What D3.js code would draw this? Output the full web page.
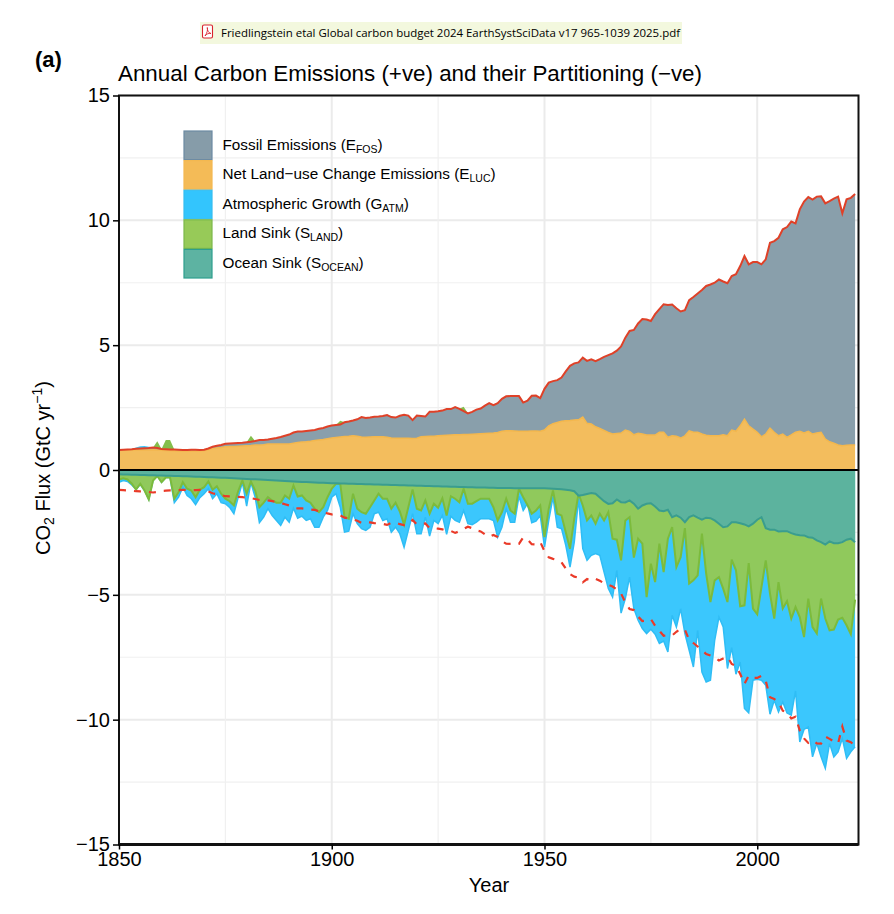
<!DOCTYPE html>
<html><head><meta charset="utf-8">
<script src="https://cdn.jsdelivr.net/npm/d3@7"></script>
<style>html,body{margin:0;padding:0;background:#fff}svg{display:block}text{font-family:"Liberation Sans",Arial,sans-serif;fill:#000}</style>
</head><body><svg id="c" width="894" height="914"></svg>
<script>
const firstYear = 1850;
// Top of positive stack: E_FOS + E_LUC (GtC/yr), by decade rows
const totalEmissions = [
.80,.81,.82,.83,.85,.86,.87,.88,.90,.88,
.84,.83,.82,.82,.81,.80,.80,.81,.81,.80,
.81,.86,.93,.97,1.00,1.05,1.06,1.07,1.08,1.09,
1.11,1.13,1.16,1.20,1.20,1.22,1.25,1.28,1.32,1.37,
1.42,1.50,1.54,1.54,1.56,1.58,1.60,1.65,1.68,1.74,
1.78,1.80,1.82,1.91,1.94,1.98,2.03,2.12,2.08,2.10,
2.13,2.14,2.16,2.20,2.12,2.10,2.17,2.21,2.18,2.00,
2.18,2.16,2.14,2.33,2.33,2.35,2.38,2.44,2.44,2.52,
2.45,2.36,2.27,2.33,2.42,2.46,2.58,2.68,2.60,2.68,
2.85,2.95,2.96,2.96,2.96,2.70,2.78,2.97,2.98,2.88,
3.25,3.50,3.56,3.60,3.70,3.95,4.17,4.27,4.31,4.50,
4.37,4.43,4.36,4.44,4.53,4.60,4.67,4.78,4.95,5.30,
5.57,5.61,5.87,6.05,6.03,5.97,6.24,6.44,6.64,6.61,
6.63,6.48,6.35,6.40,6.80,6.93,7.07,7.21,7.37,7.43,
7.50,7.63,7.55,7.48,7.77,7.84,8.17,8.57,8.24,8.33,
8.33,8.24,8.44,9.10,9.17,9.30,9.64,9.73,9.95,9.88,
10.44,10.75,10.93,10.83,10.95,10.96,10.68,10.77,10.87,10.95,
10.28,10.84,10.90,11.05];
// E_LUC
const lucEmissions = [
.80,.80,.80,.80,.80,.80,.80,.80,.81,.80,
.79,.78,.78,.77,.76,.76,.76,.76,.76,.77,
.78,.82,.86,.88,.90,.93,.94,.94,.95,.96,
.97,.98,1.00,1.00,1.01,1.04,1.04,1.04,1.04,1.04,
1.04,1.07,1.10,1.12,1.13,1.15,1.18,1.20,1.22,1.25,
1.28,1.30,1.32,1.34,1.35,1.37,1.35,1.32,1.31,1.32,
1.33,1.33,1.33,1.31,1.28,1.27,1.27,1.27,1.27,1.26,
1.27,1.33,1.34,1.35,1.35,1.37,1.38,1.39,1.40,1.41,
1.41,1.42,1.42,1.43,1.44,1.45,1.46,1.47,1.48,1.50,
1.55,1.57,1.57,1.56,1.55,1.55,1.55,1.56,1.56,1.55,
1.60,1.77,1.85,1.90,1.95,1.97,1.98,2.00,2.01,2.12,
1.87,1.84,1.73,1.66,1.58,1.50,1.44,1.46,1.48,1.60,
1.55,1.41,1.47,1.44,1.40,1.40,1.40,1.51,1.51,1.31,
1.37,1.35,1.28,1.37,1.57,1.51,1.51,1.44,1.39,1.37,
1.37,1.37,1.41,1.37,1.60,1.55,1.77,2.04,1.77,1.64,
1.51,1.33,1.44,1.68,1.51,1.37,1.44,1.31,1.41,1.51,
1.55,1.48,1.55,1.44,1.48,1.51,1.24,1.13,1.07,1.00,
.97,.99,1.00,1.00];
// Magnitudes of the downward cumulative edges
const oceanEdge = [
.17,.18,.18,.19,.19,.20,.20,.21,.21,.22,
.22,.23,.23,.24,.24,.25,.25,.26,.27,.27,
.28,.29,.29,.30,.31,.31,.32,.33,.34,.35,
.36,.37,.37,.38,.39,.40,.41,.42,.43,.44,
.45,.46,.47,.48,.48,.49,.50,.51,.51,.52,
.53,.53,.54,.54,.55,.55,.56,.56,.57,.57,
.58,.58,.59,.59,.60,.60,.61,.61,.62,.62,
.63,.63,.64,.64,.65,.65,.66,.66,.67,.67,
.68,.68,.69,.69,.70,.70,.70,.71,.71,.72,
.72,.72,.72,.73,.73,.73,.73,.73,.73,.73,
.73,.74,.75,.76,.77,.79,.81,.85,1.03,1.00,
.96,.92,.95,1.10,1.25,1.36,1.33,1.18,1.29,1.30,
1.22,1.35,1.55,1.42,1.35,1.33,1.46,1.62,1.65,1.59,
1.89,1.82,1.91,2.09,1.89,1.82,1.91,1.99,1.91,1.93,
2.02,2.15,2.29,2.26,2.09,2.09,2.13,2.18,2.26,2.15,
1.99,1.89,2.33,2.39,2.39,2.46,2.45,2.45,2.53,2.58,
2.61,2.62,2.69,2.71,2.82,2.89,2.99,2.86,2.93,2.93,
2.89,2.79,2.75,2.89];
const landEdge = [
.38,.33,.38,.55,.78,.55,.82,1.18,.42,.24,
.49,.30,.30,1.15,.89,.49,.75,.82,1.09,.79,
.69,.46,.79,.65,.95,1.15,1.25,1.42,.85,.42,
.95,.46,.82,1.49,1.31,1.09,1.22,1.31,1.31,1.02,
1.15,.62,1.06,1.02,1.22,1.31,1.55,1.69,1.49,1.09,
.75,.55,.55,1.89,1.95,.95,1.55,1.69,1.75,1.49,
1.22,.95,1.15,1.15,1.55,1.31,1.66,2.19,1.49,.78,
1.55,1.62,1.22,1.75,1.35,1.51,1.13,1.82,1.05,1.15,
1.29,.75,1.35,1.35,1.25,1.15,1.15,1.15,1.49,2.02,
1.69,1.15,1.62,1.75,.75,1.09,1.40,1.75,1.62,1.42,
2.69,1.55,.82,1.75,1.82,2.49,3.15,1.95,.95,1.42,
2.02,1.82,2.15,1.75,2.02,1.69,2.75,2.79,3.62,2.02,
1.89,3.51,2.75,2.95,5.09,3.75,4.49,2.95,4.09,2.75,
2.29,3.89,3.49,2.33,4.55,4.42,4.22,2.55,4.15,5.29,
4.42,4.29,4.75,5.29,3.59,4.02,5.46,5.42,3.73,5.55,
5.78,4.69,3.62,4.95,5.95,4.49,5.55,5.25,5.95,5.49,
5.89,6.69,5.15,6.29,6.55,5.15,5.95,6.42,6.39,5.99,
5.92,6.22,6.58,5.19];
const atmEdge = [
.49,.42,.46,.60,.78,.58,.82,1.18,.42,.24,
.49,.30,.30,1.31,1.09,.69,1.02,1.15,1.39,1.11,
.95,.75,1.15,.95,1.31,1.35,1.50,1.75,1.10,.50,
1.45,.50,1.09,2.11,1.89,1.55,1.82,2.02,2.22,1.89,
2.09,1.53,1.93,1.85,2.02,1.95,2.29,2.29,1.89,1.62,
1.09,.95,1.49,2.49,2.45,1.75,2.15,2.35,2.42,2.29,
1.75,1.69,2.02,1.95,2.49,2.29,2.55,3.09,2.42,1.75,
2.55,2.55,1.89,2.65,2.02,2.15,1.82,2.58,1.85,2.02,
2.09,1.62,2.15,2.19,2.09,1.95,1.95,1.95,2.02,2.69,
2.29,1.55,2.09,2.09,1.05,1.62,1.35,2.11,2.05,1.82,
3.09,2.02,1.09,2.29,2.35,3.02,3.89,2.89,1.15,3.15,
3.62,3.42,3.35,3.42,4.09,4.75,5.09,4.02,5.73,5.15,
4.29,5.55,6.02,6.35,6.55,6.38,6.58,6.95,6.85,7.29,
5.82,6.29,5.55,6.55,7.22,7.89,6.42,8.09,8.49,8.42,
6.82,5.89,6.29,7.95,7.11,8.18,7.69,9.55,9.73,8.42,
8.38,8.42,8.62,9.78,9.22,9.69,9.29,9.73,9.82,8.85,
10.89,10.39,10.29,11.49,10.95,11.49,11.95,10.95,11.49,11.29,
10.75,11.55,11.29,11.09];
// Places where the sinks poke above the emissions line
const landOverYears = [1859,1861,1862,1881,1902,1931];
const landOverTops  = [1.15,1.20,1.20,1.37,1.97,2.53];
const atmOverYears  = [1854,1855,1856,1857];
const atmOverTops   = [.90,.95,.96,.93];

const legendNames = ["Fossil Emissions (E","Net Land\u2212use Change Emissions (E","Atmospheric Growth (G","Land Sink (S","Ocean Sink (S"];
const legendSubs  = ["FOS","LUC","ATM","LAND","OCEAN"];
const legendFills = ["#869ca9","#f4bb57","#33c5fd","#97ca58","#5db3a2"];
const legendLines = ["#6d8ba3","#f3b850","#34bdf0","#7cb84a","#2e9e8e"];
const yTicks = [-15,-10,-5,0,5,10,15];
const yMinor = [-12.5,-7.5,-2.5,2.5,7.5,12.5];
const xTicks = [1850,1900,1950,2000];
const xMinor = [1875,1925,1975];

const L=119,R=858.5,T=95.5,B=844.5;
const x=d3.scaleLinear().domain([1850,2023.8]).range([L,R]);
const y=d3.scaleLinear().domain([-15,15]).range([B,T]);
const svg=d3.select("#c");
const rows=totalEmissions.map((t,i)=>({year:firstYear+i,t,luc:lucEmissions[i],o:-oceanEdge[i],l:-landEdge[i],a:-atmEdge[i]}));
rows.forEach(r=>{
  const i=landOverYears.indexOf(r.year); r.landTop=i>=0?landOverTops[i]:r.t;
  const j=atmOverYears.indexOf(r.year); r.atmTop=j>=0?atmOverTops[j]:r.t;
});

// grid
const g=svg.append("g");
g.selectAll(".a").data(yMinor).join("line").attr("x1",L).attr("x2",R).attr("y1",y).attr("y2",y).attr("stroke","#f0f0f0").attr("stroke-width",1.2);
g.selectAll(".b").data(yTicks).join("line").attr("x1",L).attr("x2",R).attr("y1",y).attr("y2",y).attr("stroke","#ebebeb").attr("stroke-width",2);
g.selectAll(".c").data(xMinor).join("line").attr("y1",T).attr("y2",B).attr("x1",x).attr("x2",x).attr("stroke","#f0f0f0").attr("stroke-width",1.2);
g.selectAll(".d").data(xTicks).join("line").attr("y1",T).attr("y2",B).attr("x1",x).attr("x2",x).attr("stroke","#ebebeb").attr("stroke-width",2);

function band(y0,y1,fill,stroke,sw){
  svg.append("path").datum(rows).attr("fill",fill).attr("fill-opacity",.96)
    .attr("d",d3.area().x(d=>x(d.year)).y0(d=>y(y0(d))).y1(d=>y(y1(d))));
  if(stroke) svg.append("path").datum(rows).attr("fill","none").attr("stroke",stroke).attr("stroke-width",sw)
    .attr("d",d3.line().x(d=>x(d.year)).y(d=>y(y1(d))));
}
band(d=>d.t,d=>d.atmTop,"#33c5fd");
band(d=>d.t,d=>d.landTop,"#7fbb45");
band(d=>0,d=>d.a,"#33c5fd","#2fbdf5",1.5);
band(d=>0,d=>d.l,"#94c955","#7cbb3c",2);
band(d=>0,d=>d.o,"#5ab2a1","#3a9d8f",2);
band(d=>d.luc,d=>d.t,"#849ba8");
band(d=>0,d=>d.luc,"#f3ba56","#f3b74d",1.5);

// emissions lines
const ln=d3.line().x(d=>x(d.year));
svg.append("path").datum(rows).attr("fill","none").attr("stroke","#df4128").attr("stroke-width",2)
  .attr("d",ln.y(d=>y(d.t)));
svg.append("path").datum(rows).attr("fill","none").attr("stroke","#ea3a28").attr("stroke-width",2.2).attr("stroke-dasharray","7,8")
  .attr("d",d3.line().x(d=>x(d.year)).y(d=>y(-d.t)));

// zero line, frame
svg.append("line").attr("x1",L).attr("x2",R).attr("y1",y(0)).attr("y2",y(0)).attr("stroke","#000").attr("stroke-width",2);
svg.append("rect").attr("x",L).attr("y",T).attr("width",R-L).attr("height",B-T).attr("fill","none").attr("stroke","#111").attr("stroke-width",2);
svg.append("line").attr("x1",L).attr("x2",R).attr("y1",B).attr("y2",B).attr("stroke","#111").attr("stroke-width",3);

// axes
const ax=svg.append("g").attr("transform",`translate(${L},0)`).call(d3.axisLeft(y).tickValues(yTicks).tickSize(6).tickPadding(3));
const bx=svg.append("g").attr("transform",`translate(0,${B})`).call(d3.axisBottom(x).tickValues(xTicks).tickFormat(d3.format("d")).tickSize(5).tickPadding(2));
[ax,bx].forEach(a=>{a.select(".domain").remove();a.selectAll("line").attr("stroke","#000").attr("stroke-width",1.5);
  a.selectAll("text").style("font-size","20px").style("font-family",'"Liberation Sans"').attr("fill","#000");});

// titles
svg.append("text").attr("x",35).attr("y",67).style("font-size","22px").style("font-weight","bold").text("(a)");
svg.append("text").attr("x",118).attr("y",81).style("font-size","22px").attr("textLength",584).attr("lengthAdjust","spacingAndGlyphs")
  .text("Annual Carbon Emissions (+ve) and their Partitioning (\u2212ve)");
svg.append("text").attr("x",489).attr("y",892).attr("text-anchor","middle").style("font-size","20px").text("Year");
const yl=svg.append("text").attr("transform","translate(50,468) rotate(-90)").attr("text-anchor","middle").style("font-size","20px");
yl.append("tspan").text("CO");
yl.append("tspan").attr("dy",4).style("font-size","14px").text("2");
yl.append("tspan").attr("dy",-4).text(" Flux (GtC yr");
yl.append("tspan").attr("dy",-8).style("font-size","14px").text("\u22121");
yl.append("tspan").attr("dy",8).text(")");

// legend
const swH=29.6, swY=130.5;
legendNames.forEach((n,i)=>{
  svg.append("rect").attr("x",184).attr("y",swY+i*swH+.5).attr("width",28).attr("height",swH-1)
    .attr("fill",legendFills[i]).attr("stroke",legendLines[i]).attr("stroke-width",1.2);
  const t=svg.append("text").attr("x",222.5).attr("y",swY+i*swH+19).style("font-size","15.3px");
  t.append("tspan").text(n);
  t.append("tspan").attr("dy",3).style("font-size","10.5px").text(legendSubs[i]);
  t.append("tspan").attr("dy",-3).text(")");
});

// file chip
svg.append("rect").attr("x",200).attr("y",22).attr("width",482).attr("height",22).attr("fill","#f3f8de");
svg.append("rect").attr("x",202.5).attr("y",25).attr("width",10).attr("height",13).attr("rx",1.5).attr("fill","#fff").attr("stroke","#d9232e").attr("stroke-width",1.1);
svg.append("path").attr("d","M205 36 C207 33 208 30 207.3 27.5 C207 30 208.5 33 211 33.5 C208.5 33 206.5 34 205 36 Z").attr("fill","none").attr("stroke","#d9232e").attr("stroke-width",.9);
svg.append("text").attr("x",221).attr("y",37).style("font-size","11.5px").style("font-family",'"Open Sans"').attr("textLength",459).attr("lengthAdjust","spacingAndGlyphs")
  .text("Friedlingstein etal Global carbon budget 2024 EarthSystSciData v17 965-1039 2025.pdf");
</script></body></html>
